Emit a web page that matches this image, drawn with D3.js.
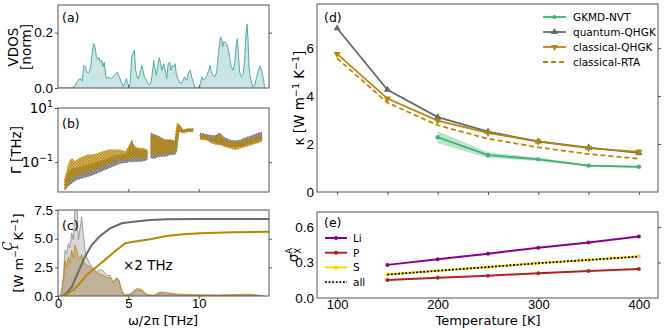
<!doctype html>
<html lang="en">
<head>
  <meta charset="utf-8">
  <title>VDOS, linewidths and conductivity</title>
  <style>
    body { margin: 0; background: #fff; }
    svg { font-family: "DejaVu Sans", sans-serif; }
    .frame { fill: none; stroke: #555; stroke-width: 1; }
    .tick text { font-size: 13.5px; fill: #000; }
    .xb .tick text { font-size: 13px; }
    .tick line { stroke: #555; }
    .domain { display: none; }
  </style>
</head>
<body>
  <svg id="chart" width="664" height="330"></svg>
  <script src="https://d3js.org/d3.v7.min.js"></script>
  <script>
    // (a) vibrational density of states
    var vdosFreq = [0, 0.95, 1.18, 1.42, 1.61, 1.71, 1.85, 1.94, 2.04, 2.18, 2.32, 2.44, 2.54, 2.63, 2.73, 2.82, 2.91, 3.01, 3.10, 3.20,
      3.29, 3.39, 3.48, 3.58, 3.67, 3.79, 3.91, 4.08, 4.22, 4.36, 4.50, 4.64, 4.74, 4.86, 4.95, 5.05, 5.14, 5.24, 5.33, 5.43,
      5.52, 5.62, 5.71, 5.85, 5.95, 6.04, 6.14, 6.28, 6.40, 6.52, 6.64, 6.73, 6.80, 6.87, 6.99, 7.11, 7.20, 7.30, 7.39, 7.51,
      7.63, 7.73, 7.84, 7.94, 8.03, 8.13, 8.22, 8.32, 8.41, 8.51, 8.63, 8.74, 8.89, 9.00, 9.15, 9.29, 9.41, 9.50, 9.62, 9.74,
      9.91, 10.05, 10.14, 10.24, 10.36, 10.47, 10.59, 10.71, 10.81, 10.90, 11.02, 11.14, 11.28, 11.40, 11.49, 11.56, 11.64, 11.71, 11.78, 11.85,
      11.97, 12.09, 12.20, 12.32, 12.44, 12.56, 12.68, 12.75, 12.82, 12.91, 13.03, 13.15, 13.27, 13.36, 13.44, 13.51, 13.58, 13.67, 13.77, 13.86,
      13.98, 14.10, 14.24, 14.36, 14.48, 14.60, 14.69]
    var vdos = [0, 0, 0.006, 0.028, 0.034, 0.025, 0.082, 0.076, 0.058, 0.054, 0.076, 0.131, 0.161, 0.149, 0.113, 0.103, 0.110, 0.094, 0.100, 0.076,
      0.094, 0.046, 0.034, 0.040, 0.038, 0.034, 0.040, 0.050, 0.058, 0.040, 0.022, 0.004, 0.016, 0.034, 0.016, 0.004, 0.022, 0.113, 0.125, 0.137,
      0.064, 0.040, 0.034, 0.058, 0.082, 0.064, 0.040, 0.028, 0.016, 0.010, 0.028, 0.064, 0.100, 0.076, 0.046, 0.082, 0.110, 0.088, 0.064, 0.088,
      0.064, 0.034, 0.088, 0.094, 0.064, 0.082, 0.076, 0.088, 0.052, 0.034, 0.022, 0.016, 0.028, 0.040, 0.028, 0.058, 0.064, 0.040, 0.022, 0,
      0, 0, 0.022, 0.040, 0.028, 0.034, 0.046, 0.064, 0.082, 0.058, 0.046, 0.040, 0.058, 0.125, 0.161, 0.185, 0.173, 0.149, 0.167, 0.167,
      0.161, 0.143, 0.113, 0.076, 0.064, 0.088, 0.161, 0.179, 0.125, 0.058, 0.040, 0.046, 0.101, 0.197, 0.231, 0.173, 0.076, 0.040, 0.016, 0.004,
      0.010, 0.034, 0.064, 0.079, 0.064, 0.034, 0]

    // (b) linewidths: lower / upper edge of the point clouds, null = gap
    var gwQFreq = [0.5, 0.7, 1.0, 1.3, 1.7, 2.1, 2.5, 2.9, 3.3, 3.7, 4.1, 4.5, 4.9, 5.1, 5.25, 5.45, 5.8, 6.1, 6.35, null,
      6.6, 6.9, 7.2, 7.6, 8.0, 8.3, 8.45, 8.6, 8.9, 9.2, 9.6, null, 10.1, 10.5, 10.9, 11.2, 11.5, 11.8, 12.2, 12.6, 13.0, 13.4, 13.8, 14.2, 14.5]
    var gwQLo = [0.0094, 0.013, 0.0167, 0.022, 0.0255, 0.029, 0.034, 0.042, 0.052, 0.062, 0.077, 0.092, 0.098, 0.106, 0.10, 0.106, 0.106, 0.11, 0.122, null,
      0.141, 0.141, 0.162, 0.162, 0.187, 0.187, 0.25, 1.37, 1.22, 1.37, 1.37, null, 0.77, 0.72, 0.58, 0.51, 0.47, 0.41, 0.38, 0.35, 0.38, 0.44, 0.51, 0.58, 0.67]
    var gwQHi = [0.019, 0.039, 0.060, 0.060, 0.069, 0.080, 0.092, 0.106, 0.122, 0.150, 0.178, 0.187, 0.20, 0.44, 0.67, 0.33, 0.29, 0.29, 0.25, null,
      1.19, 1.03, 0.89, 0.67, 0.67, 0.58, 1.82, 2.4, 1.55, 1.68, 1.72, null, 1.19, 1.10, 0.96, 0.96, 1.19, 0.83, 0.67, 0.62, 0.67, 0.83, 0.96, 1.19, 1.29]
    var gwCFreq = [0.45, 0.6, 0.8, 1.0, 1.2, 1.5, 1.8, 2.1, 2.5, 2.8, 3.2, 3.6, 4.0, 4.4, 4.8, 5.1, 5.25, 5.45, 5.8, 6.1, 6.35, null,
      6.6, 6.9, 7.2, 7.6, 8.0, 8.3, 8.45, 8.6, 8.9, 9.2, 9.6, null, 10.1, 10.5, 10.9, 11.2, 11.5, 11.8, 12.2, 12.6, 13.0, 13.4, 13.8, 14.2, 14.5]
    var gwCLo = [0.0094, 0.011, 0.022, 0.0255, 0.029, 0.034, 0.039, 0.045, 0.052, 0.060, 0.069, 0.092, 0.106, 0.122, 0.122, 0.141, 0.141, 0.162, 0.141, 0.141, 0.162, null,
      0.187, 0.215, 0.187, 0.215, 0.215, 0.25, 0.33, 1.37, 1.19, 1.29, 1.37, null, 0.67, 0.67, 0.51, 0.44, 0.44, 0.38, 0.33, 0.29, 0.33, 0.38, 0.44, 0.51, 0.58]
    var gwCHi = [0.022, 0.045, 0.106, 0.141, 0.106, 0.141, 0.162, 0.187, 0.187, 0.215, 0.25, 0.29, 0.29, 0.29, 0.25, 0.44, 0.58, 0.38, 0.33, 0.33, 0.29, null,
      0.89, 1.03, 0.77, 0.67, 0.67, 0.58, 2.78, 2.55, 1.58, 1.72, 1.72, null, 1.03, 0.89, 0.77, 0.77, 1.19, 0.67, 0.58, 0.51, 0.58, 0.67, 0.77, 0.82, 0.89]

    // (c) spectral (x2 THz) and cumulative conductivity
    var specFreq = [0.14, 0.26, 0.38, 0.50, 0.62, 0.73, 0.85, 0.97, 1.09, 1.21, 1.33, 1.45, 1.56, 1.68, 1.80, 1.92, 2.04, 2.27, 2.51, 2.75,
      2.98, 3.22, 3.46, 3.69, 3.93, 4.17, 4.33, 4.53, 4.76, 5.12, 5.59, 5.95, 6.30, 6.78, 7.25, 7.73, 8.44, 9.38, 11.28, 13.65, 14.6]
    var specQ = [0, 0.6, 1.68, 4.0, 3.7, 4.6, 4.2, 5.5, 4.9, 7.6, 8.4, 4.9, 5.8, 6.9, 5.5, 4.0, 3.4, 2.8, 2.4, 2.1,
      2.3, 2.2, 1.8, 1.8, 1.25, 1.6, 1.4, 0.38, 0, 0.1, 0.5, 0.45, 0.05, 0, 0.23, 0.15, 0.08, 0.05, 0.03, 0.08, 0]
    var specC = [0, 0, 1.1, 3.1, 2.55, 3.4, 2.85, 4.0, 3.3, 4.45, 4.0, 3.4, 3.3, 3.6, 3.0, 2.85, 2.7, 2.55, 2.3, 2.05,
      1.9, 1.8, 1.6, 1.6, 1.15, 1.55, 1.35, 0.45, 0.1, 0.17, 0.65, 0.58, 0.15, 0.06, 0.35, 0.3, 0.17, 0.12, 0.09, 0.15, 0.03]
    var cumQFreq = [0.38, 0.97, 1.45, 1.92, 2.39, 2.99, 3.70, 4.53, 5.35, 6.54, 7.72, 10.09, 12.46, 15]
    var cumQ = [0, 0.76, 2.12, 3.43, 4.45, 5.23, 5.90, 6.34, 6.48, 6.63, 6.69, 6.72, 6.72, 6.72]
    var cumCFreq = [0.38, 1.09, 1.56, 2.04, 2.75, 3.46, 4.17, 4.76, 5.35, 6.54, 7.72, 8.91, 10.09, 12.46, 15]
    var cumC = [0, 0.52, 1.10, 1.83, 2.56, 3.28, 4.01, 4.59, 4.74, 4.94, 5.23, 5.38, 5.47, 5.55, 5.61]

    // (d) thermal conductivity vs temperature
    var temps = [100, 150, 200, 250, 300, 350, 400]
    var quantumQHGK = [6.82, 4.26, 3.12, 2.51, 2.11, 1.85, 1.63]
    var classicalQHGK = [5.75, 3.89, 2.97, 2.46, 2.10, 1.83, 1.67]
    var classicalRTA = [5.57, 3.72, 2.78, 2.22, 1.86, 1.58, 1.39]
    var gkTemps = [200, 250, 300, 350, 400]
    var gkmd = [2.28, 1.54, 1.36, 1.10, 1.05]
    var gkmdErr = [0.25, 0.12, 0.07, 0.05, 0.04]

    // (e) per-species contribution
    var eTemps = [150, 200, 250, 300, 350, 400]
    var sigLi = [0.280, 0.327, 0.375, 0.425, 0.470, 0.520]
    var sigP = [0.152, 0.172, 0.189, 0.209, 0.228, 0.245]
    var sigS = [0.200, 0.231, 0.262, 0.296, 0.321, 0.352]
    var sigAll = [0.198, 0.230, 0.262, 0.294, 0.322, 0.350]

    var grey = "#696969", gold = "#b8860b", green = "#3cb371", teal = "#4fada6"
    var svg = d3.select("#chart")
    var defs = svg.append("defs")

    function frame(x0, y0, x1, y1) {
      svg.append("rect").attr("class", "frame")
        .attr("x", x0).attr("y", y0).attr("width", x1 - x0).attr("height", y1 - y0)
    }
    function label(txt, x, y) {
      svg.append("text").attr("x", x).attr("y", y).attr("font-size", 12.5).text(txt)
    }
    function clip(id, x0, y0, x1, y1) {
      defs.append("clipPath").attr("id", id).append("rect")
        .attr("x", x0).attr("y", y0).attr("width", x1 - x0).attr("height", y1 - y0)
    }
    function pts(xs, ys) {
      return xs.map(function(d, i) { return [d, ys[i]] })
    }
    // speckle texture so the linewidth clouds read as dense scatter
    function speckle(id, col, dx) {
      var p = defs.append("pattern").attr("id", id).attr("patternUnits", "userSpaceOnUse")
        .attr("width", 3).attr("height", 3).attr("x", dx).attr("y", dx)
      p.append("rect").attr("x", 0).attr("y", 0).attr("width", 1.6).attr("height", 1.6).attr("fill", col)
      p.append("rect").attr("x", 1.5).attr("y", 1.5).attr("width", 1.4).attr("height", 1.4).attr("fill", col)
    }
    speckle("spQ", grey, 0)
    speckle("spC", gold, 1)

    // shared frequency axis for left column
    var xf = d3.scaleLinear().domain([0, 15]).range([58, 269])

    // ---------- (a)
    var ya = d3.scaleLinear().domain([0, 0.3]).range([88, 5])
    clip("ca", 58, 5, 269, 88)
    var va = pts(vdosFreq, vdos)
    svg.append("path").datum(va).attr("clip-path", "url(#ca)")
      .attr("d", d3.area().x(function(d) { return xf(d[0]) }).y0(ya(0)).y1(function(d) { return ya(d[1]) }))
      .attr("fill", teal).attr("fill-opacity", 0.3)
    svg.append("path").datum(va).attr("clip-path", "url(#ca)")
      .attr("d", d3.line().x(function(d) { return xf(d[0]) }).y(function(d) { return ya(d[1]) }))
      .attr("fill", "none").attr("stroke", teal).attr("stroke-width", 1)
    svg.append("g").attr("transform", "translate(58,0)")
      .call(d3.axisLeft(ya).tickValues([0, 0.2]).tickFormat(d3.format(".1f")).tickSize(3).tickPadding(2))
    svg.append("g").attr("transform", "translate(269,0)")
      .call(d3.axisRight(ya).tickValues([0.2]).tickFormat("").tickSize(3))
    svg.append("g").attr("transform", "translate(0,88)")
      .call(d3.axisBottom(xf).tickValues([5, 10]).tickFormat("").tickSize(-3))
    frame(58, 5, 269, 88)
    label("(a)", 62, 22)
    svg.append("text").attr("transform", "translate(18,47) rotate(-90)").attr("text-anchor", "middle")
      .attr("font-size", 13.5).text("VDOS")
    svg.append("text").attr("transform", "translate(31,47) rotate(-90)").attr("text-anchor", "middle")
      .attr("font-size", 13.5).text("[norm]")

    // ---------- (b)
    var yb = d3.scaleLog().domain([Math.pow(10, -2.1), 10]).range([192, 108])
    clip("cb", 58, 108, 269, 192)
    function cloud(fr, lo, hi, col, pat) {
      var data = fr.map(function(d, i) { return { f: d, lo: lo[i], hi: hi[i] } })
      var ar = d3.area().defined(function(d) { return d.f !== null })
        .x(function(d) { return xf(d.f) }).y0(function(d) { return yb(d.lo) }).y1(function(d) { return yb(d.hi) })
      svg.append("path").datum(data).attr("clip-path", "url(#cb)").attr("d", ar)
        .attr("fill", col).attr("fill-opacity", 0.55)
      svg.append("path").datum(data).attr("clip-path", "url(#cb)").attr("d", ar)
        .attr("fill", "url(#" + pat + ")")
        .attr("stroke", col).attr("stroke-width", 1).attr("stroke-dasharray", "1,2").attr("stroke-opacity", 0.8)
    }
    cloud(gwQFreq, gwQLo, gwQHi, grey, "spQ")
    cloud(gwCFreq, gwCLo, gwCHi, gold, "spC")
    svg.append("g").attr("transform", "translate(58,0)")
      .call(d3.axisLeft(yb).tickValues([10, 0.1]).tickFormat("").tickSize(3))
    svg.append("g").attr("transform", "translate(269,0)")
      .call(d3.axisRight(yb).tickValues([0.1]).tickFormat("").tickSize(3))
    svg.append("g").attr("transform", "translate(0,192)")
      .call(d3.axisBottom(xf).tickValues([5, 10]).tickFormat("").tickSize(-3))
    var bExp = [1, -1]
    bExp.forEach(function(e) {
      var t = svg.append("text").attr("x", 53).attr("y", yb(Math.pow(10, e)) + 5)
        .attr("text-anchor", "end").attr("font-size", 13.5)
      t.append("tspan").text("10")
      t.append("tspan").attr("dy", -6).attr("font-size", 9.5).text(e === 1 ? "1" : "\u22121")
    })
    frame(58, 108, 269, 192)
    label("(b)", 62, 128)
    svg.append("text").attr("transform", "translate(21,150) rotate(-90)").attr("text-anchor", "middle")
      .attr("font-size", 13.5).text("\u0393 [THz]")

    // ---------- (c)
    var yc = d3.scaleLinear().domain([0, 7.5]).range([296, 210])
    clip("cc", 58, 210, 269, 296)
    var areaC = d3.area().x(function(d) { return xf(d[0]) }).y0(yc(0)).y1(function(d) { return yc(d[1]) })
    var lineC = d3.line().x(function(d) { return xf(d[0]) }).y(function(d) { return yc(d[1]) })
    var sq = pts(specFreq, specQ), sc = pts(specFreq, specC)
    svg.append("path").datum(sq).attr("clip-path", "url(#cc)").attr("d", areaC)
      .attr("fill", "#d9d9d9")
    svg.append("path").datum(sq).attr("clip-path", "url(#cc)").attr("d", lineC)
      .attr("fill", "none").attr("stroke", "#8c8c8c").attr("stroke-width", 0.8)
    svg.append("path").datum(sc).attr("clip-path", "url(#cc)").attr("d", areaC)
      .attr("fill", "#9c7a3c").attr("fill-opacity", 0.4)
    svg.append("path").datum(sc).attr("clip-path", "url(#cc)").attr("d", lineC)
      .attr("fill", "none").attr("stroke", gold).attr("stroke-width", 0.8)
    svg.append("path").datum(pts(cumQFreq, cumQ)).attr("clip-path", "url(#cc)").attr("d", lineC)
      .attr("fill", "none").attr("stroke", grey).attr("stroke-width", 2)
    svg.append("path").datum(pts(cumCFreq, cumC)).attr("clip-path", "url(#cc)").attr("d", lineC)
      .attr("fill", "none").attr("stroke", gold).attr("stroke-width", 2)
    svg.append("g").attr("transform", "translate(58,0)")
      .call(d3.axisLeft(yc).tickValues([0, 2.5, 5, 7.5]).tickFormat(d3.format(".1f")).tickSize(3).tickPadding(2))
    svg.append("g").attr("transform", "translate(269,0)")
      .call(d3.axisRight(yc).tickValues([2.5, 5]).tickFormat("").tickSize(3))
    svg.append("g").attr("class", "xb").attr("transform", "translate(0,296)")
      .call(d3.axisBottom(xf).tickValues([0, 5, 10]).tickFormat(d3.format("d")).tickSize(3).tickPadding(0))
    frame(58, 210, 269, 296)
    label("(c)", 62, 230)
    svg.append("text").attr("x", 123).attr("y", 270).attr("font-size", 13.5).text("\u00d72 THz")
    svg.append("text").attr("transform", "translate(12,246) rotate(-90)").attr("text-anchor", "middle")
      .attr("font-size", 12).attr("font-style", "italic").attr("font-family", "DejaVu Serif").text("C")
    var cl = svg.append("text").attr("transform", "translate(23,253) rotate(-90)").attr("text-anchor", "middle")
      .attr("font-size", 13)
    cl.append("tspan").text("[W m")
    cl.append("tspan").attr("dy", -5).attr("font-size", 9).text("\u22121")
    cl.append("tspan").attr("dy", 5).text(" K")
    cl.append("tspan").attr("dy", -5).attr("font-size", 9).text("\u22121")
    cl.append("tspan").attr("dy", 5).text("]")
    svg.append("text").attr("x", 163).attr("y", 324.5).attr("text-anchor", "middle").attr("font-size", 13)
      .text("\u03c9/2\u03c0 [THz]")

    // ---------- (d)
    var xt = d3.scaleLinear().domain([80, 419]).range([317, 658])
    var yd = d3.scaleLinear().domain([0, 7.83]).range([192, 4])
    var lineD = d3.line().x(function(d) { return xt(d[0]) }).y(function(d) { return yd(d[1]) })
    var gkPts = gkTemps.map(function(t, i) { return { t: t, v: gkmd[i], e: gkmdErr[i] } })
    svg.append("path").datum(gkPts)
      .attr("d", d3.area().x(function(d) { return xt(d.t) })
        .y0(function(d) { return yd(d.v - d.e) }).y1(function(d) { return yd(d.v + d.e) }))
      .attr("fill", green).attr("fill-opacity", 0.35)
    svg.append("path").datum(pts(temps, classicalRTA)).attr("d", lineD)
      .attr("fill", "none").attr("stroke", gold).attr("stroke-width", 1.8).attr("stroke-dasharray", "5,3")
    svg.append("path").datum(pts(temps, quantumQHGK)).attr("d", lineD)
      .attr("fill", "none").attr("stroke", grey).attr("stroke-width", 1.8)
    svg.append("path").datum(pts(temps, classicalQHGK)).attr("d", lineD)
      .attr("fill", "none").attr("stroke", gold).attr("stroke-width", 1.8)
    svg.append("path").datum(pts(gkTemps, gkmd)).attr("d", lineD)
      .attr("fill", "none").attr("stroke", green).attr("stroke-width", 1.8)
    var triUp = d3.symbol(d3.symbolTriangle, 22)
    svg.selectAll(".mq").data(pts(temps, quantumQHGK)).enter().append("path")
      .attr("d", triUp).attr("fill", grey)
      .attr("transform", function(d) { return "translate(" + xt(d[0]) + "," + yd(d[1]) + ")" })
    svg.selectAll(".mc").data(pts(temps, classicalQHGK)).enter().append("path")
      .attr("d", triUp).attr("fill", gold)
      .attr("transform", function(d) { return "translate(" + xt(d[0]) + "," + yd(d[1]) + ") rotate(180)" })
    svg.selectAll(".mg").data(pts(gkTemps, gkmd)).enter().append("circle")
      .attr("r", 2.2).attr("fill", green)
      .attr("cx", function(d) { return xt(d[0]) }).attr("cy", function(d) { return yd(d[1]) })
    svg.append("g").attr("transform", "translate(317,0)")
      .call(d3.axisLeft(yd).tickValues([0, 2, 4, 6]).tickFormat(d3.format("d")).tickSize(0).tickPadding(3))
    svg.append("g").attr("transform", "translate(658,0)")
      .call(d3.axisRight(yd).tickValues([2, 4, 6]).tickFormat("").tickSize(3))
    svg.append("g").attr("transform", "translate(0,192)")
      .call(d3.axisBottom(xt).tickValues(temps).tickFormat("").tickSize(3))
    frame(317, 4, 658, 192)
    label("(d)", 324, 22)
    var dl = svg.append("text").attr("transform", "translate(304,98) rotate(-90)").attr("text-anchor", "middle")
      .attr("font-size", 13.5)
    dl.append("tspan").text("\u03ba [W m")
    dl.append("tspan").attr("dy", -5).attr("font-size", 9.5).text("\u22121")
    dl.append("tspan").attr("dy", 5).text(" K")
    dl.append("tspan").attr("dy", -5).attr("font-size", 9.5).text("\u22121")
    dl.append("tspan").attr("dy", 5).text("]")

    var legD = [
      { name: "GKMD-NVT", col: green, dash: null, mark: "c" },
      { name: "quantum-QHGK", col: grey, dash: null, mark: "u" },
      { name: "classical-QHGK", col: gold, dash: null, mark: "d" },
      { name: "classical-RTA", col: gold, dash: "5,3", mark: null }
    ]
    legD.forEach(function(d, i) {
      var y = 17 + i * 15
      svg.append("line").attr("x1", 543).attr("x2", 566).attr("y1", y).attr("y2", y)
        .attr("stroke", d.col).attr("stroke-width", 1.8).attr("stroke-dasharray", d.dash)
      if (d.mark === "c") svg.append("circle").attr("cx", 554.5).attr("cy", y).attr("r", 2).attr("fill", d.col)
      if (d.mark === "u") svg.append("path").attr("d", triUp).attr("fill", d.col).attr("transform", "translate(554.5," + y + ")")
      if (d.mark === "d") svg.append("path").attr("d", triUp).attr("fill", d.col).attr("transform", "translate(554.5," + y + ") rotate(180)")
      svg.append("text").attr("x", 573).attr("y", y + 3.8).attr("font-size", 10.5).text(d.name)
    })

    // ---------- (e)
    var ye = d3.scaleLinear().domain([0, 0.727]).range([298, 212])
    var lineE = d3.line().x(function(d) { return xt(d[0]) }).y(function(d) { return ye(d[1]) })
    var purple = "#8b008b", red = "#b22222", yellow = "#ffd700"
    ;[[sigLi, purple], [sigP, red], [sigS, yellow]].forEach(function(s) {
      svg.append("path").datum(pts(eTemps, s[0])).attr("d", lineE)
        .attr("fill", "none").attr("stroke", s[1]).attr("stroke-width", 2)
      svg.selectAll(null).data(pts(eTemps, s[0])).enter().append("circle")
        .attr("r", 2).attr("fill", s[1])
        .attr("cx", function(d) { return xt(d[0]) }).attr("cy", function(d) { return ye(d[1]) })
    })
    svg.append("path").datum(pts(eTemps, sigAll)).attr("d", lineE)
      .attr("fill", "none").attr("stroke", "#000").attr("stroke-width", 1.8).attr("stroke-dasharray", "1.8,1.8")
    svg.append("g").attr("transform", "translate(317,0)")
      .call(d3.axisLeft(ye).tickValues([0, 0.3, 0.6]).tickFormat(d3.format(".1f")).tickSize(0).tickPadding(3))
    svg.append("g").attr("transform", "translate(658,0)")
      .call(d3.axisRight(ye).tickValues([0.3, 0.6]).tickFormat("").tickSize(3))
    svg.append("g").attr("class", "xb").attr("transform", "translate(0,298)")
      .call(d3.axisBottom(xt).tickValues([100, 200, 300, 400]).tickFormat(d3.format("d")).tickSize(3).tickPadding(-1))
    frame(317, 212, 658, 298)
    label("(e)", 324, 227)
    svg.append("text").attr("x", 488).attr("y", 324.5).attr("text-anchor", "middle").attr("font-size", 13)
      .text("Temperature [K]")
    var el = svg.append("text").attr("transform", "translate(298,255) rotate(-90)").attr("text-anchor", "middle")
      .attr("font-size", 13.5)
    el.append("tspan").text("\u03c3")
    el.append("tspan").attr("dy", -6).attr("dx", 0).attr("font-size", 8.5).text("A")
    el.append("tspan").attr("dy", 9).attr("dx", -6).attr("font-size", 8.5).text("X")

    var legE = [["Li", purple], ["P", red], ["S", yellow], ["all", "#000"]]
    legE.forEach(function(d, i) {
      var y = 238 + i * 14.7
      svg.append("line").attr("x1", 325).attr("x2", 347).attr("y1", y).attr("y2", y)
        .attr("stroke", d[1]).attr("stroke-width", d[0] === "all" ? 1.6 : 2)
        .attr("stroke-dasharray", d[0] === "all" ? "1.8,1.8" : null)
      if (d[0] !== "all") svg.append("circle").attr("cx", 336).attr("cy", y).attr("r", 2).attr("fill", d[1])
      svg.append("text").attr("x", 353).attr("y", y + 4).attr("font-size", 10.5).text(d[0])
    })
  </script>
</body>
</html>
